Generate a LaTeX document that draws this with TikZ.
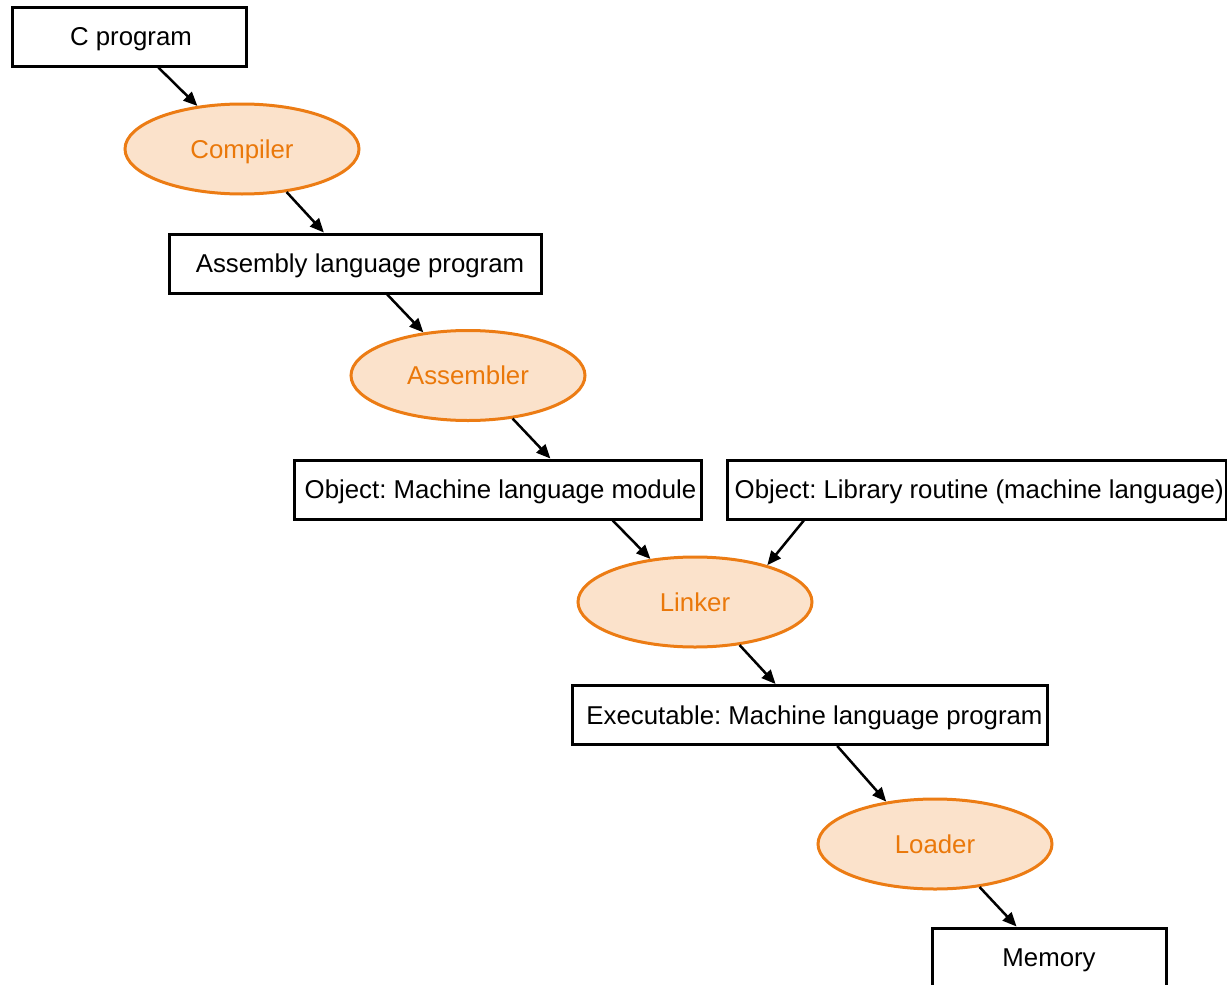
\documentclass[tikz,border=0pt]{standalone}
\usepackage{fontspec}
\setmainfont{Liberation Sans}
\frenchspacing
\usetikzlibrary{arrows.meta,shapes.geometric,calc}
\definecolor{orline}{RGB}{236,124,20}
\definecolor{orfill}{RGB}{251,226,203}
\definecolor{ortext}{RGB}{234,120,10}
\begin{document}
\begin{tikzpicture}[x=1pt,y=-1pt,
  txt/.style={font=\fontsize{25.8}{30}\selectfont, text height=18pt, text depth=0pt},
  box/.style={txt, draw, line width=3pt, minimum height=59pt, inner sep=0pt},
  tright/.style={execute at begin node={\hspace*{#1}}},
  proc/.style={txt, ellipse, draw=orline, fill=orfill, line width=3pt, minimum width=234pt, minimum height=90pt, inner sep=0pt, text=ortext},
  arr/.style={line width=2.5pt, -{Triangle[length=14pt,width=12pt]}}]
\path[use as bounding box] (0,0) rectangle (1227,985);
\clip (0,0) rectangle (1227,985);
\node[box, minimum width=234pt, tright=4pt] (cprog) at (129,36.5) {C program};
\node[proc] (comp) at (242,149) {Compiler};
\node[box, minimum width=372pt, tright=10pt] (asm) at (355,263.5) {Assembly language program};
\node[proc] (asmr) at (468,375.5) {Assembler};
\node[box, minimum width=407pt, tright=6pt] (obj) at (497.5,489.5) {Object: Machine language module};
\node[box, minimum width=499pt] (lib) at (976.5,489.5) {};
\node[txt, anchor=west, inner sep=0pt] (libtext) at ($(lib.west)+(9,0)$) {Object: Library routine (machine language)};
\node[proc] (link) at (695,602) {Linker};
\node[box, minimum width=475pt, tright=10pt] (exe) at (809.5,715) {Executable: Machine language program};
\node[proc] (load) at (935,844) {Loader};
\node[box, minimum width=234pt] (mem) at (1049,957.5) {Memory};
\draw[arr] ($(cprog.south west)!0.624!(cprog.south east)$) -- (comp.136);
\draw[arr] (comp.-44) -- ($(asm.north west)!0.417!(asm.north east)$);
\draw[arr] ($(asm.south west)!0.586!(asm.south east)$) -- (asmr.136);
\draw[arr] (asmr.-44) -- ($(obj.north west)!0.629!(obj.north east)$);
\draw[arr] ($(obj.south west)!0.781!(obj.south east)$) -- (link.136);
\draw[arr] ($(lib.south west)!0.156!(lib.south east)$) -- (link.27);
\draw[arr] (link.-44) -- ($(exe.north west)!0.429!(exe.north east)$);
\draw[arr] ($(exe.south west)!0.558!(exe.south east)$) -- (load.139);
\draw[arr] (load.-44) -- ($(mem.north west)!0.363!(mem.north east)$);
\end{tikzpicture}
\end{document}
